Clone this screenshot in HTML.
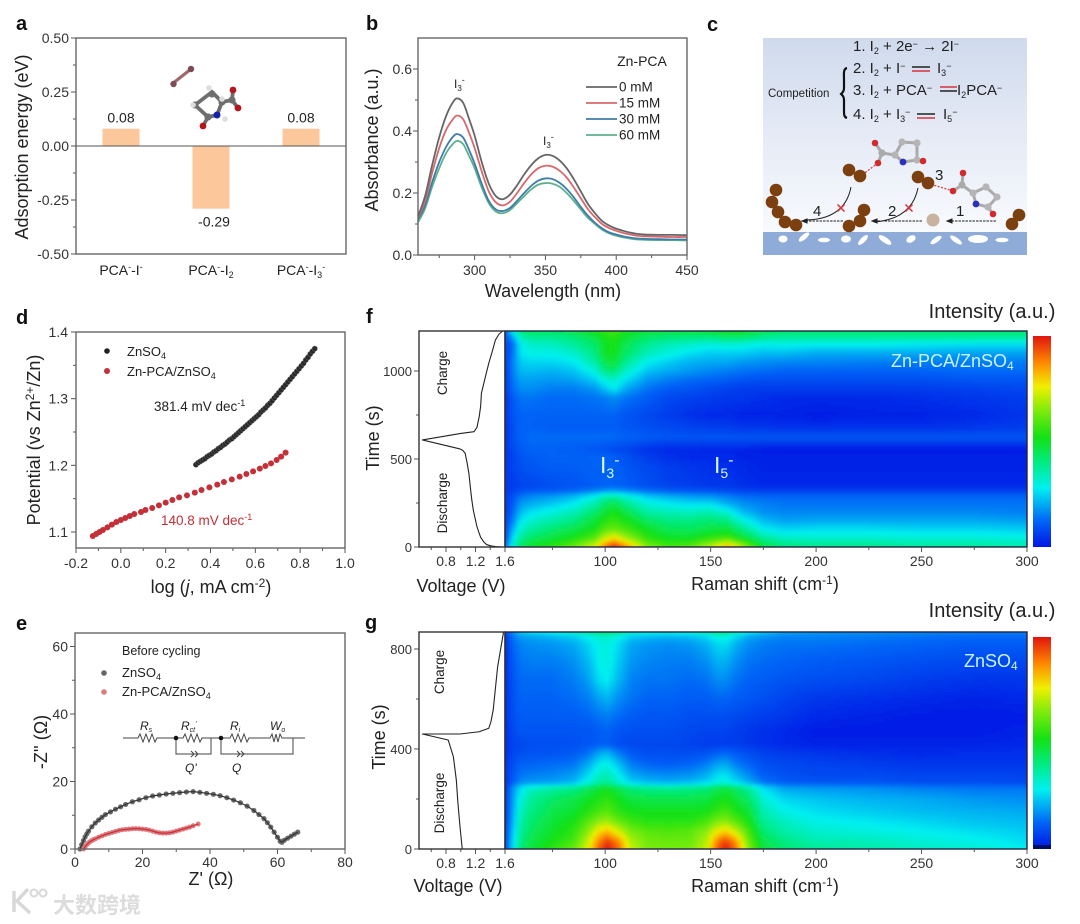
<!DOCTYPE html>
<html lang="en">
<head>
<meta charset="utf-8">
<title>Zn-PCA iodine chemistry figure</title>
<style>
html,body{margin:0;padding:0;background:#fff;}
svg{display:block;font-family:"Liberation Sans","Noto Sans CJK SC",sans-serif;}
text{fill:#222;}
.big{font-size:18px;}
.tick{font-size:14px;fill:#333;}
.letter{font-size:20px;font-weight:bold;fill:#111;}
</style>
</head>
<body>
<svg id="fig" width="1080" height="924" viewBox="0 0 1080 924" xmlns="http://www.w3.org/2000/svg">
  <defs>
    <linearGradient id="cbg" x1="0" y1="0" x2="0" y2="1">
      <stop offset="0" stop-color="#cfdaec"/>
      <stop offset="0.45" stop-color="#e3e9f5"/>
      <stop offset="1" stop-color="#f8fafd"/>
    </linearGradient>
    <filter id="soft" x="-2%" y="-2%" width="104%" height="104%"><feGaussianBlur stdDeviation="1.6"/></filter>
    <clipPath id="clipF"><rect x="505" y="331" width="522" height="216"/></clipPath>
    <clipPath id="clipG"><rect x="505" y="632" width="522" height="217"/></clipPath>
  </defs>

  <text class="letter" x="16" y="30">a</text>
  <text class="letter" x="366" y="30">b</text>
  <text class="letter" x="707" y="31">c</text>
  <text class="letter" x="16" y="324">d</text>
  <text class="letter" x="16" y="630">e</text>
  <text class="letter" x="366" y="323">f</text>
  <text class="letter" x="365" y="629">g</text>

  <g id="panelA"></g>
  <g id="moleculeA">
    <line x1="172" y1="84" x2="191" y2="69" stroke="#9c6a6a" stroke-width="3.200"/>
    <circle cx="173.500" cy="84" r="3.200" fill="#7d4d55"/><circle cx="191" cy="69" r="3.200" fill="#7d4d55"/>
    <path d="M195 105L208 117L217 115L222 102L212 92Z M208 117L203 126 M222 102L232 100L233 90 M232 100L238 108" fill="none" stroke="#6e6e6e" stroke-width="3.800"/>
    <circle cx="195" cy="105" r="3.600" fill="#6e6e6e"/><circle cx="208" cy="117" r="3.600" fill="#6e6e6e"/><circle cx="222" cy="102" r="3.600" fill="#6e6e6e"/><circle cx="212" cy="94" r="3.600" fill="#6e6e6e"/><circle cx="232" cy="100" r="3.600" fill="#6e6e6e"/>
    <circle cx="217" cy="115" r="3.500" fill="#1520b0"/>
    <circle cx="203" cy="126" r="3.400" fill="#b5161c"/><circle cx="233" cy="90" r="3.400" fill="#b5161c"/><circle cx="238" cy="108" r="3.400" fill="#b5161c"/>
    <circle cx="209" cy="88" r="2.800" fill="#ddd"/><circle cx="222" cy="99" r="2.800" fill="#ddd"/><circle cx="225" cy="119" r="2.800" fill="#ddd"/><circle cx="193" cy="105" r="2.800" fill="#ddd"/>
  </g>

  <g id="panelB"></g>

  <g id="panelC">
    <rect x="763" y="38" width="264" height="194" fill="url(#cbg)"/>
    <rect x="763" y="232" width="264" height="23" fill="#8fabd8"/>
    <g fill="#fff">
      <ellipse cx="783" cy="239" rx="4.500" ry="3.500"/>
      <ellipse cx="804" cy="237" rx="6.500" ry="2.500" transform="rotate(-40 804 237)"/>
      <ellipse cx="824" cy="240" rx="6" ry="2.300"/>
      <ellipse cx="846" cy="239" rx="5" ry="3.500"/>
      <ellipse cx="863" cy="240" rx="6.500" ry="2.500" transform="rotate(-45 863 240)"/>
      <ellipse cx="885" cy="240" rx="7.500" ry="2.800" transform="rotate(35 885 240)"/>
      <ellipse cx="911" cy="239" rx="5" ry="3.300" transform="rotate(-30 911 239)"/>
      <ellipse cx="936" cy="240" rx="6.500" ry="2.500" transform="rotate(-35 936 240)"/>
      <ellipse cx="956" cy="240" rx="7" ry="2.500" transform="rotate(35 956 240)"/>
      <ellipse cx="978" cy="239" rx="10" ry="4"/>
      <ellipse cx="1002" cy="240" rx="6.500" ry="2.300"/>
    </g>
    <g font-size="15">
      <text x="853" y="51">1. I<tspan dy="3" font-size="9">2</tspan><tspan dy="-3"> + 2e</tspan><tspan dy="-4" font-size="9">−</tspan><tspan dy="4"> → 2I</tspan><tspan dy="-4" font-size="9">−</tspan></text>
      <text x="853" y="73">2. I<tspan dy="3" font-size="9">2</tspan><tspan dy="-3"> + I</tspan><tspan dy="-4" font-size="9">−</tspan><tspan dy="4" x="937">I</tspan><tspan dy="3" font-size="9">3</tspan><tspan dy="-7" font-size="9">−</tspan></text>
      <text x="853" y="95">3. I<tspan dy="3" font-size="9">2</tspan><tspan dy="-3"> + PCA</tspan><tspan dy="-4" font-size="9">−</tspan><tspan dy="4" x="957">I</tspan><tspan dy="3" font-size="9">2</tspan><tspan dy="-3">PCA</tspan><tspan dy="-4" font-size="9">−</tspan></text>
      <text x="853" y="119">4. I<tspan dy="3" font-size="9">2</tspan><tspan dy="-3"> + I</tspan><tspan dy="3" font-size="9">3</tspan><tspan dy="-7" font-size="9">−</tspan><tspan dy="4" x="943">I</tspan><tspan dy="3" font-size="9">5</tspan><tspan dy="-7" font-size="9">−</tspan></text>
    </g>
    <g stroke-width="1.500">
      <line x1="912" y1="67" x2="930" y2="67" stroke="#222"/><line x1="912" y1="71" x2="930" y2="71" stroke="#d8323c"/>
      <line x1="940" y1="87" x2="957" y2="87" stroke="#d8323c"/><line x1="940" y1="91" x2="957" y2="91" stroke="#222"/>
      <line x1="917" y1="114" x2="935" y2="114" stroke="#222"/><line x1="917" y1="118" x2="935" y2="118" stroke="#d8323c"/>
    </g>
    <text x="768" y="97" font-size="11.500">Competition</text>
    <path d="M847 68C843 69 844 74 844 80L844 88C844 92 842 93 841 94C842 95 844 96 844 100L844 110C844 115 844 117 847 118" fill="none" stroke="#111" stroke-width="2.200"/>
    <g>
      <path d="M875 143L882 153L878 163M882 153L895 155L902 142L917 143L917 160L903 162L895 155M917 160L923 161" fill="none" stroke="#aaa" stroke-width="3"/>
      <line x1="878" y1="163" x2="862" y2="175" stroke="#d8323c" stroke-dasharray="2 1.500" stroke-width="1.200"/>
      <circle cx="875" cy="143" r="3.300" fill="#d02c30"/><circle cx="882" cy="153" r="3.600" fill="#aaa"/><circle cx="878" cy="163" r="3.300" fill="#d02c30"/><circle cx="895" cy="155" r="3.600" fill="#b5b5b5"/><circle cx="902" cy="142" r="3.600" fill="#b5b5b5"/><circle cx="917" cy="143" r="3.600" fill="#b5b5b5"/><circle cx="917" cy="160" r="3.600" fill="#b5b5b5"/><circle cx="903" cy="162" r="3.400" fill="#2a30c0"/><circle cx="923" cy="161" r="3.300" fill="#d02c30"/>
    </g>
    <g>
      <path d="M963 173L962 185L953 191M962 185L973 193L986 187L997 197L988 207L976 204L973 193M988 207L993 214" fill="none" stroke="#aaa" stroke-width="3"/>
      <line x1="953" y1="191" x2="930" y2="184" stroke="#d8323c" stroke-dasharray="2 1.500" stroke-width="1.200"/>
      <circle cx="963" cy="173" r="3.300" fill="#d02c30"/><circle cx="962" cy="185" r="3.600" fill="#aaa"/><circle cx="953" cy="191" r="3.300" fill="#d02c30"/><circle cx="973" cy="193" r="3.600" fill="#b5b5b5"/><circle cx="986" cy="187" r="3.600" fill="#b5b5b5"/><circle cx="997" cy="197" r="3.600" fill="#b5b5b5"/><circle cx="988" cy="207" r="3.600" fill="#b5b5b5"/><circle cx="976" cy="204" r="3.400" fill="#2a30c0"/><circle cx="993" cy="214" r="3.300" fill="#d02c30"/>
    </g>
    <g fill="#7c3f0f">
      <circle cx="776" cy="190" r="6.300"/><circle cx="772" cy="202" r="6.300"/><circle cx="778" cy="212" r="6.300"/><circle cx="785" cy="222" r="6.300"/><circle cx="796" cy="225" r="6.300"/>
      <circle cx="849" cy="226" r="6.300"/><circle cx="860" cy="221" r="6.300"/><circle cx="864" cy="210" r="6.300"/>
      <circle cx="849" cy="170" r="6.300"/><circle cx="860" cy="176" r="6.300"/>
      <circle cx="918" cy="177" r="6.300"/><circle cx="928" cy="183" r="6.300"/>
      <circle cx="1012" cy="224" r="6.300"/><circle cx="1019" cy="215" r="6.300"/>
    </g>
    <circle cx="933" cy="220" r="6.500" fill="#c9b3a0"/>
    <g fill="none" stroke="#222" stroke-width="1">
      <line x1="996" y1="221" x2="948" y2="221" stroke-dasharray="2.500 1"/><path d="M947 221l5 -2v4z" fill="#222"/>
      <line x1="922" y1="221" x2="873" y2="221" stroke-dasharray="2.500 1"/><path d="M872 221l5 -2v4z" fill="#222"/>
      <line x1="843" y1="221" x2="803" y2="221" stroke-dasharray="2.500 1"/><path d="M802 221l5 -2v4z" fill="#222"/>
      <path d="M918 188C914 208 900 220 874 222"/>
      <path d="M851 187C847 208 832 220 804 220"/>
    </g>
    <g stroke="#d8323c" stroke-width="1.500">
      <path d="M905.500 204.500l7 7M912.500 204.500l-7 7"/>
      <path d="M837.500 204.500l7 7M844.500 204.500l-7 7"/>
    </g>
    <g font-size="15">
      <text x="956" y="216">1</text>
      <text x="888" y="216">2</text>
      <text x="935" y="180">3</text>
      <text x="813" y="216">4</text>
    </g>
  </g>

  <g id="panelD"></g>
  <g id="panelE"></g>
  <g id="circuit" fill="none" stroke="#444" stroke-width="1">
    <path d="M123 738H138l2 -4l3 8l3 -8l3 8l3 -8l3 8l2 -4H183l2 -4l3 8l3 -8l3 8l3 -8l3 8l2 -4h9V754H176V738"/>
    <path d="M211 738h10H230l2 -4l3 8l3 -8l3 8l3 -8l3 8l2 -4H270l2 -4l2 8l2 -8l2 8l2 -8l2 4H305M293 738V754H221V738"/>
    <path d="M191 751l3 3l-3 3M195 751l3 3l-3 3M237 751l3 3l-3 3M241 751l3 3l-3 3"/>
    <circle cx="176" cy="738" r="2.300" fill="#111" stroke="none"/>
    <circle cx="221" cy="738" r="2.300" fill="#111" stroke="none"/>
    <g font-size="12" font-style="italic" stroke="none">
      <text x="140" y="730" fill="#333">R<tspan dy="2" font-size="7">s</tspan></text>
      <text x="181" y="730" fill="#333">R<tspan dy="2" font-size="7">ct</tspan><tspan dy="-6" font-size="7">'</tspan></text>
      <text x="230" y="730" fill="#333">R<tspan dy="2" font-size="7">i</tspan></text>
      <text x="270" y="730" fill="#333">W<tspan dy="2" font-size="7">o</tspan></text>
      <text x="185" y="772" fill="#333">Q'</text>
      <text x="232" y="772" fill="#333">Q</text>
    </g>
  </g>
  <g id="panelF"></g>
  <g id="panelG"></g>

  <g>
    <path d="M14 891V912M28 889L17 901L30 913" fill="none" stroke="#d8d8d8" stroke-width="3.500"/>
    <circle cx="34" cy="893" r="3.500" fill="none" stroke="#d8d8d8" stroke-width="2"/>
    <circle cx="43" cy="893" r="3.500" fill="none" stroke="#d8d8d8" stroke-width="2"/>
    <text x="53" y="913" font-size="22" font-weight="bold" style="font-family:'Noto Sans CJK SC',sans-serif;fill:#dcdcdc;">大数跨境</text>
  </g>
</svg>

<script>
/* ---------- panel a data ---------- */
const aCategories = ['PCA<tspan dy="-5" font-size="9">-</tspan><tspan dy="5">-I</tspan><tspan dy="-5" font-size="9">-</tspan>',
  'PCA<tspan dy="-5" font-size="9">-</tspan><tspan dy="5">-I</tspan><tspan dy="3" font-size="9">2</tspan>',
  'PCA<tspan dy="-5" font-size="9">-</tspan><tspan dy="5">-I</tspan><tspan dy="3" font-size="9">3</tspan><tspan dy="-8" font-size="9">-</tspan>'];
const aValues = [0.08, -0.29, 0.08];
const aValueLabels = ['0.08', '-0.29', '0.08'];
const aYTicks = [-0.5, -0.25, 0, 0.25, 0.5];
const aYTickLabels = ['-0.50', '-0.25', '0.00', '0.25', '0.50'];
const aYMinor = [-0.375, -0.125, 0.125, 0.375];

/* ---------- panel b data ---------- */
const bWavelength = [260,265,270,275,280,285,288,292,296,300,305,310,315,320,325,330,335,340,345,350,355,360,365,370,375,380,385,390,395,400,405,410,415,420,430,440,450];
const b0mM = [.125,.19,.29,.38,.45,.495,.505,.49,.44,.385,.30,.23,.19,.18,.195,.225,.26,.29,.312,.323,.32,.305,.28,.245,.205,.165,.135,.11,.095,.085,.078,.072,.068,.066,.065,.065,.064];
const b15mM = [.12,.175,.265,.345,.405,.44,.45,.437,.395,.345,.27,.205,.17,.16,.172,.2,.232,.26,.28,.288,.285,.272,.25,.218,.183,.148,.122,.1,.087,.078,.071,.066,.062,.06,.059,.058,.058];
const b30mM = [.115,.16,.235,.30,.35,.383,.39,.378,.34,.295,.23,.175,.147,.142,.152,.175,.2,.223,.24,.247,.245,.233,.213,.186,.155,.127,.104,.086,.073,.066,.06,.056,.053,.052,.051,.05,.05];
const b60mM = [.105,.15,.22,.28,.33,.36,.368,.357,.32,.28,.218,.167,.14,.135,.145,.167,.19,.212,.227,.232,.23,.22,.2,.175,.147,.12,.1,.082,.07,.062,.057,.053,.05,.049,.048,.048,.047];
const bLegendLabels = ['0 mM', '15 mM', '30 mM', '60 mM'];
const bXTicks = [300, 350, 400, 450];
const bXMinor = [275, 325, 375, 425];
const bYTicks = [0, 0.2, 0.4, 0.6];
const bYMinor = [0.1, 0.3, 0.5];

/* ---------- panel d data ---------- */
const dZnX = [.335,.345,.355,.365,.375,.385,.395,.405,.415,.425,.435,.445,.455,.465,.475,.485,.495,.505,.515,.525,.535,.545,.555,.565,.575,.585,.595,.605,.615,.625,.635,.645,.655,.665,.675,.685,.695,.705,.715,.725,.735,.745,.755,.765,.775,.785,.795,.805,.815,.825,.835,.845,.855,.865];
const dZnY = [1.201,1.204,1.206,1.208,1.21,1.213,1.215,1.217,1.22,1.222,1.225,1.227,1.23,1.232,1.235,1.238,1.24,1.243,1.246,1.249,1.252,1.255,1.258,1.261,1.264,1.267,1.27,1.273,1.276,1.28,1.283,1.286,1.29,1.293,1.297,1.301,1.305,1.309,1.313,1.317,1.321,1.325,1.329,1.333,1.337,1.341,1.345,1.349,1.353,1.358,1.362,1.367,1.371,1.375];
const dPcaX = [-.125,-.11,-.095,-.08,-.06,-.04,-.02,0,.02,.04,.06,.09,.11,.14,.17,.2,.23,.26,.295,.33,.36,.395,.43,.46,.495,.53,.56,.59,.62,.645,.67,.695,.715,.735];
const dPcaY = [1.094,1.097,1.1,1.103,1.107,1.111,1.115,1.118,1.121,1.124,1.127,1.13,1.133,1.136,1.14,1.144,1.148,1.152,1.155,1.159,1.163,1.167,1.171,1.175,1.179,1.183,1.187,1.191,1.195,1.199,1.203,1.208,1.213,1.219];
const dXTicks = [-0.2, 0, 0.2, 0.4, 0.6, 0.8, 1.0];
const dYTicks = [1.1, 1.2, 1.3, 1.4];
const dXMinor = [-0.1, 0.1, 0.3, 0.5, 0.7, 0.9];
const dYMinor = [1.15, 1.25, 1.35];

/* ---------- panel e data ---------- */
const eZnX = [1.5,2,2.5,3,3.5,4,5,6,7,8,9,10.5,12,13.5,15,17,19,21,23,25,27,29,31,33,35,37,39,41,43,45,47,49,51,53,54.5,56,57,58,59,60,60.8,61.3,62,63,64,65,66];
const eZnY = [0,1.3,2.5,3.6,4.5,5.3,6.6,7.7,8.6,9.4,10.2,11,11.8,12.5,13.2,14,14.6,15.2,15.7,16,16.3,16.5,16.7,16.9,17,16.8,16.5,16.2,15.8,15.2,14.5,13.7,12.7,11.4,10.2,9,7.8,6.5,5,3.5,2.3,2,2.6,3.2,3.8,4.4,5];
const ePcaX = [2.5,3,3.5,4,4.5,5,5.5,6,7,8,9,10,11,12,13,14,15,16,17,18,19,20,21,22,23,24,25,26,27,28,29,30,31,32,33,34,35,36.5];
const ePcaY = [0,.7,1.3,1.8,2.2,2.5,2.8,3,3.5,3.9,4.3,4.6,4.9,5.2,5.5,5.7,5.8,5.9,6,6.05,6,5.9,5.8,5.6,5.3,5,4.8,4.7,4.7,4.8,5,5.3,5.6,5.9,6.2,6.5,6.9,7.4];
const eXTicks = [0, 20, 40, 60, 80];
const eYTicks = [0, 20, 40, 60];
const eXMinor = [10, 30, 50, 70];
const eYMinor = [10, 30, 50];

/* ---------- panel f data ---------- */
const fVoltage = [1.57,1.48,1.41,1.35,1.31,1.27,1.25,1.22,1.2,1.17,1.15,1.13,1.11,1.085,1.06,1.03,0.99,0.48,1.0,1.18,1.22,1.25,1.27,1.28,1.33,1.38,1.43,1.47,1.52,1.57];
const fVoltTime = [0,2,6,14,30,55,78,115,153,210,267,340,419,480,532,548,557,608,645,655,680,740,800,873,960,1044,1115,1176,1210,1227];
const fRaman = [53,56,60,65,75,85,95,100,104,110,120,130,140,150,158,165,175,185,200,225,250,275,300];
const fTime = [0,50,100,150,200,250,290,320,350,450,520,550,625,680,750,850,900,950,1000,1050,1100,1150,1190,1227];
const fIntensity = [
 [15,30,45,50,55,62,75,90,100,88,65,58,60,72,85,70,48,42,40,40,38,38,36],
 [10,25,38,43,48,52,60,72,78,68,55,50,50,55,58,50,38,33,32,32,31,31,30],
 [8,20,32,37,42,46,52,60,62,58,50,45,44,47,48,40,28,25,26,26,25,25,24],
 [7,15,27,32,36,40,48,54,56,52,44,40,40,42,40,30,22,19,20,20,20,20,19],
 [6,12,22,26,30,34,42,48,52,46,36,34,33,35,30,22,17,16,16,16,16,16,15],
 [6,10,18,20,23,27,35,42,45,38,30,27,25,25,20,17,15,14,14,14,14,14,14],
 [6,9,14,16,18,21,28,34,36,30,23,20,18,17,15,13,12,12,12,12,12,12,12],
 [5,7,9,10,11,12,15,17,18,16,13,11,10,9,8,7,6,6,6,6,6,6,6],
 [5,6,7,8,9,10,11,12,12,11,9,7,6,5,5,4,3,3,3,3,3,3,3],
 [5,7,9,10,11,11,12,12,12,10,8,6,5,4,4,3,2,2,2,2,2,2,2],
 [5,7,10,11,12,12,12,12,11,9,6,4,3,3,3,2,2,2,2,2,2,2,2],
 [5,8,11,12,12,11,10,9,8,7,4,3,3,2,2,2,1,1,1,1,1,1,1],
 [5,9,12,13,13,13,13,13,13,12,11,10,10,10,10,10,10,10,10,10,10,10,10],
 [5,9,12,12,11,11,11,11,11,10,9,8,7,6,6,5,5,4,4,4,4,5,6],
 [5,10,12,12,12,12,12,12,12,10,8,6,4,3,3,2,2,2,1,2,2,3,5],
 [5,11,14,14,13,13,14,15,17,14,11,8,7,6,5,5,4,3,3,3,4,5,6],
 [6,13,17,17,15,15,18,23,28,20,14,11,10,8,7,6,6,6,6,6,6,7,8],
 [6,14,19,19,18,19,24,30,32,26,18,15,13,12,11,10,9,9,9,9,9,10,10],
 [6,15,22,22,21,23,30,40,42,32,23,20,18,16,15,14,13,12,12,12,12,13,13],
 [7,15,24,25,25,27,36,46,48,38,28,24,21,20,20,18,17,16,16,15,15,15,15],
 [7,13,27,29,29,32,40,50,51,43,34,30,26,24,24,24,22,22,20,20,20,19,19],
 [8,12,28,32,33,37,43,50,52,45,38,34,32,30,31,30,28,29,28,28,27,26,26],
 [10,18,34,38,38,41,46,52,54,48,43,41,40,40,42,42,38,37,37,37,37,37,37],
 [12,28,42,44,44,46,52,56,58,52,48,47,47,49,52,52,46,43,43,43,43,43,43]
];
const fYTicks = [0, 500, 1000];
const fYMinor = [250, 750];

/* ---------- panel g data ---------- */
const gVoltage = [1.02,0.99,0.96,0.94,0.9,0.83,0.48,0.99,1.25,1.38,1.41,1.44,1.5,1.58];
const gVoltTime = [0,89,190,276,369,436,460,460,469,483,510,556,729,867];
const gRaman = [53,56,60,65,75,85,92,97,101,106,112,120,130,140,148,153,157,162,168,175,185,200,225,250,275,300];
const gTime = [0,30,70,110,150,200,245,265,300,340,380,420,470,530,600,680,750,820,855,868];
const gIntensity = [
 [10,25,42,48,55,62,75,92,100,92,72,64,63,64,72,92,100,90,65,48,42,38,36,33,31,28],
 [9,24,40,46,52,58,72,88,96,88,70,63,62,62,70,88,96,86,62,46,40,35,34,31,29,26],
 [8,22,38,44,50,55,66,78,82,74,64,60,59,60,66,76,80,72,58,42,36,32,30,28,26,24],
 [7,20,36,42,48,52,60,66,68,62,57,54,54,54,58,64,66,60,52,38,33,29,27,25,23,22],
 [6,19,34,40,46,49,54,58,60,55,52,51,51,51,52,56,58,53,48,35,29,26,24,22,21,20],
 [6,18,30,38,43,46,50,53,55,51,47,46,46,46,47,50,52,48,43,31,25,23,21,20,18,17],
 [5,17,26,32,36,39,44,48,50,46,41,39,38,39,41,45,47,43,37,26,19,18,17,15,14,14],
 [5,11,17,18,19,22,30,36,38,32,25,22,21,22,25,29,30,26,21,14,11,10,10,9,9,8],
 [5,10,14,15,16,18,25,32,34,28,20,17,16,17,20,25,26,21,16,11,9,8,8,7,7,7],
 [5,9,12,12,13,14,20,27,29,23,15,12,11,12,15,19,20,15,12,9,8,7,6,5,5,5],
 [4,8,9,10,10,11,14,20,22,16,11,9,9,9,10,12,13,11,9,7,6,5,4,3,4,4],
 [4,7,8,9,9,9,10,11,11,9,8,8,8,7,6,6,6,6,5,4,3,2,2,2,2,3],
 [4,8,10,10,10,10,10,11,12,10,9,9,9,8,7,7,7,6,5,4,3,1,1,1,1,2],
 [4,9,11,11,11,11,12,14,15,13,11,10,10,9,9,9,9,8,7,6,5,3,2,1,1,1],
 [4,9,12,12,12,13,15,19,21,17,14,12,12,11,11,12,12,11,10,9,7,5,4,3,2,3],
 [4,10,13,13,13,15,19,26,28,22,16,14,14,13,14,17,17,14,12,11,10,9,8,6,5,5],
 [4,11,14,15,15,17,22,28,30,24,18,16,15,15,17,21,21,17,14,13,12,11,10,9,8,8],
 [5,12,16,17,18,20,25,29,30,26,20,18,17,18,21,25,26,21,17,15,14,14,13,12,11,11],
 [6,14,19,20,22,25,29,32,33,30,25,23,22,23,26,31,31,26,20,18,16,16,15,14,13,13],
 [9,18,26,28,32,36,42,46,47,44,36,32,31,34,38,44,44,38,30,25,21,19,18,17,16,16]
];
const gYTicks = [0, 400, 800];
const gYMinor = [200, 600];

/* ---------- shared raman / voltage axis ticks ---------- */
const ramanTicks = [100, 150, 200, 250, 300];
const ramanMinor = [75, 125, 175, 225, 275];
const voltTicks = [0.8, 1.2, 1.6];
const voltMinor = [0.6, 1.0, 1.4];

/* ---------- colour map ---------- */
const cmapStops = [0, 12, 28, 40, 52, 65, 76, 87, 100];
const cmapColors = [[0,22,228],[0,98,246],[0,240,240],[0,235,130],[20,225,20],[130,235,10],[240,240,0],[255,140,0],[225,20,15]];

/* ---------- helpers ---------- */
const NS = 'http://www.w3.org/2000/svg';
function make(tag, attrs, parent) {
  const el = document.createElementNS(NS, tag);
  for (const k in attrs) el.setAttribute(k, attrs[k]);
  if (parent) parent.appendChild(el);
  return el;
}
function scale(d0, d1, r0, r1) {
  const f = v => r0 + (v - d0) / (d1 - d0) * (r1 - r0);
  f.invert = p => d0 + (p - r0) / (r1 - r0) * (d1 - d0);
  return f;
}
function color(v) {
  let i = 0;
  while (i < cmapStops.length - 2 && v > cmapStops[i + 1]) i++;
  const t = Math.max(0, Math.min(1, (v - cmapStops[i]) / (cmapStops[i + 1] - cmapStops[i])));
  const a = cmapColors[i], b = cmapColors[i + 1];
  return 'rgb(' + [0, 1, 2].map(k => Math.round(a[k] + (b[k] - a[k]) * t)).join(',') + ')';
}
function yAxis(parent, sy, x, ticks, labels, minor, labelX, size) {
  ticks.forEach((t, i) => {
    const tick = make('line', {x1: x - 5, x2: x, y1: sy(t), y2: sy(t), stroke: '#555', 'stroke-width': 1}, parent);
    
    
    const label = make('text', {x: labelX, y: sy(t) + 5, 'text-anchor': 'end', class: 'tick'}, parent);
    
    
    if (size) label.style.fontSize = size + 'px';
    label.textContent = labels[i];
  });
  minor.forEach(t => {
    const tick = make('line', {x1: x - 3, x2: x, y1: sy(t), y2: sy(t), stroke: '#555', 'stroke-width': 1}, parent);
    
    
  });
}
function xAxis(parent, sx, y, ticks, labels, minor, baseline) {
  ticks.forEach((t, i) => {
    const tick = make('line', {x1: sx(t), x2: sx(t), y1: y, y2: y + 5, stroke: '#555', 'stroke-width': 1}, parent);
    
    
    const label = make('text', {x: sx(t), y: baseline, 'text-anchor': 'middle', class: 'tick'}, parent);
    
    
    label.textContent = labels[i];
  });
  minor.forEach(t => {
    const tick = make('line', {x1: sx(t), x2: sx(t), y1: y, y2: y + 3, stroke: '#555', 'stroke-width': 1}, parent);
    
    
  });
}
function frame(parent, x, y, w, h, col) {
  const box = make('rect', {x: x, y: y, width: w, height: h, fill: 'none', stroke: col || '#666', 'stroke-width': 1.4}, parent);
  
  
}
function rotated(parent, x, y, html, anchorName) {
  const t = make('text', {x: x, y: y, 'text-anchor': 'middle', class: 'big', transform: 'rotate(-90 ' + x + ' ' + y + ')'}, parent);
  
  
  t.innerHTML = html;
  return t;
}
function horizontal(parent, x, y, html, anchorName, anchor) {
  const t = make('text', {x: x, y: y, 'text-anchor': anchor || 'middle', class: 'big'}, parent);
  
  
  t.innerHTML = html;
  return t;
}
function linePath(xs, ys, sx, sy) {
  return xs.map((v, i) => (i ? 'L' : 'M') + sx(v).toFixed(2) + ' ' + sy(ys[i]).toFixed(2)).join('');
}
function smoothPath(xs, ys, sx, sy) {
  const px = xs.map(sx), py = ys.map(sy);
  let d = 'M' + px[0].toFixed(2) + ' ' + py[0].toFixed(2);
  for (let i = 0; i < px.length - 1; i++) {
    const a = Math.max(i - 1, 0), b = Math.min(i + 2, px.length - 1);
    d += 'C' + (px[i] + (px[i + 1] - px[a]) / 6).toFixed(2) + ' ' + (py[i] + (py[i + 1] - py[a]) / 6).toFixed(2) + ' ' +
         (px[i + 1] - (px[b] - px[i]) / 6).toFixed(2) + ' ' + (py[i + 1] - (py[b] - py[i]) / 6).toFixed(2) + ' ' +
         px[i + 1].toFixed(2) + ' ' + py[i + 1].toFixed(2);
  }
  return d;
}
function bracket(arr, v) {
  let i = 0;
  while (i < arr.length - 2 && v > arr[i + 1]) i++;
  return [i, Math.max(0, Math.min(1, (v - arr[i]) / (arr[i + 1] - arr[i])))];
}
function heatmap(parent, clipId, cols, rows, grid, sx, sy, left, right, top, bottom) {
  const clip = make('g', {'clip-path': 'url(#' + clipId + ')'}, parent);
  
  
  const soft = make('g', {filter: 'url(#soft)'}, clip);
  
  
  const stepX = 4, stepY = 3;
  for (let px = left - 8; px < right + 8; px += stepX) {
    const [ci, cf] = bracket(cols, sx.invert(px + stepX / 2));
    for (let py = top - 9; py < bottom + 9; py += stepY) {
      const [ri, rf] = bracket(rows, sy.invert(py + stepY / 2));
      const v = (grid[ri][ci] * (1 - cf) + grid[ri][ci + 1] * cf) * (1 - rf) +
                (grid[ri + 1][ci] * (1 - cf) + grid[ri + 1][ci + 1] * cf) * rf;
      const cell = make('rect', {x: px, y: py, width: stepX, height: stepY, fill: color(v), 'shape-rendering': 'crispEdges'}, soft);
      
      
    }
  }
}
function colorbar(parent, id, x, y, w, h, darkEnd) {
  const grad = make('linearGradient', {id: id, x1: 0, y1: 1, x2: 0, y2: 0}, parent);
  cmapStops.forEach((s, i) => {
    make('stop', {offset: s / 100, 'stop-color': 'rgb(' + cmapColors[i].join(',') + ')'}, grad);
  });
  const bar = make('rect', {x: x, y: y, width: w, height: h, fill: 'url(#' + id + ')'}, parent);
  
  
  if (darkEnd) {
    const end = make('rect', {x: x, y: y + h - 4, width: w, height: 4, fill: '#001060'}, parent);
    
    
  }
}

/* ---------- panel a ---------- */
(function () {
  const g = document.getElementById('panelA');
  const sy = scale(-0.5, 0.5, 254, 38);
  const barCenters = i => 121 + i * 90;
  aValues.forEach((v, i) => {
    const bar = make('rect', {x: barCenters(i) - 18.5, y: Math.min(sy(v), sy(0)), width: 37, height: Math.abs(sy(v) - sy(0)), fill: '#fcc79a'}, g);
    
    
    const label = make('text', {x: barCenters(i) + (v < 0 ? 3 : 0), y: v < 0 ? sy(v) + 18 : sy(v) - 6, 'text-anchor': 'middle', 'font-size': 14}, g);
    
    
    label.textContent = aValueLabels[i];
    const cat = make('text', {x: barCenters(i), y: 275, 'text-anchor': 'middle', 'font-size': 14}, g);
    
    
    cat.innerHTML = aCategories[i];
  });
  const zero = make('line', {x1: 76, x2: 346, y1: sy(0), y2: sy(0), stroke: '#555', 'stroke-width': 1}, g);
  
  
  yAxis(g, sy, 76, aYTicks, aYTickLabels, aYMinor, 69);
  frame(g, 76, 38, 270, 216);
  rotated(g, 28, 147, 'Adsorption energy (eV)', 'y-axis-title');
})();

/* ---------- panel b ---------- */
(function () {
  const g = document.getElementById('panelB');
  const sx = scale(260, 450, 418, 687);
  const sy = scale(0, 0.7, 255, 38);
  const series = [b0mM, b15mM, b30mM, b60mM];
  const cols = ['#666666', '#d9686c', '#3f7da8', '#5db08c'];
  [3, 2, 1, 0].forEach(i => {
    const p = make('path', {d: smoothPath(bWavelength, series[i], sx, sy), fill: 'none', stroke: cols[i], 'stroke-width': 1.8, 'stroke-linejoin': 'round'}, g);
    
    
  });
  bLegendLabels.forEach((lab, i) => {
    const y = 87 + i * 16;
    const key = make('line', {x1: 586, x2: 617, y1: y, y2: y, stroke: cols[i], 'stroke-width': 1.8}, g);
    
    
    const t = make('text', {x: 619, y: y + 4.5, 'font-size': 13.5}, g);
    
    
    t.textContent = lab;
  });
  const head = make('text', {x: 642, y: 66, 'text-anchor': 'middle', 'font-size': 14}, g);
  
  
  head.textContent = 'Zn-PCA';
  const p1 = make('text', {x: 454, y: 88, 'font-size': 12}, g);
  
  
  p1.innerHTML = 'I<tspan dy="3" font-size="8">3</tspan><tspan dy="-8" font-size="9">-</tspan>';
  const p2 = make('text', {x: 543, y: 145, 'font-size': 12}, g);
  
  
  p2.innerHTML = 'I<tspan dy="3" font-size="8">3</tspan><tspan dy="-8" font-size="9">-</tspan>';
  yAxis(g, sy, 418, bYTicks, bYTicks.map(v => v.toFixed(1)), bYMinor, 412);
  xAxis(g, sx, 255, bXTicks, bXTicks.map(String), bXMinor, 275);
  frame(g, 418, 38, 269, 217);
  rotated(g, 378, 140, 'Absorbance (a.u.)', 'y-axis-title');
  horizontal(g, 553, 297, 'Wavelength (nm)', 'x-axis-title');
})();

/* ---------- panel d ---------- */
(function () {
  const g = document.getElementById('panelD');
  const sx = scale(-0.2, 1.0, 76, 345);
  const sy = scale(1.076, 1.4, 548, 332);
  dZnX.forEach((v, i) => {
    const dot = make('circle', {cx: sx(v), cy: sy(dZnY[i]), r: 2.7, fill: '#2a2a2a', stroke: '#777', 'stroke-width': 0.4}, g);
    
    
  });
  dPcaX.forEach((v, i) => {
    const dot = make('circle', {cx: sx(v), cy: sy(dPcaY[i]), r: 3, fill: '#c42f38'}, g);
    
    
  });
  const k1 = make('circle', {cx: 107, cy: 351, r: 2.8, fill: '#222'}, g);
  
  
  const k2 = make('circle', {cx: 107, cy: 371, r: 3, fill: '#c42f38'}, g);
  
  
  const t1 = make('text', {x: 127, y: 356, 'font-size': 13}, g);
  
  
  t1.innerHTML = 'ZnSO<tspan dy="3" font-size="9">4</tspan>';
  const t2 = make('text', {x: 127, y: 376, 'font-size': 13}, g);
  
  
  t2.innerHTML = 'Zn-PCA/ZnSO<tspan dy="3" font-size="9">4</tspan>';
  const s1 = make('text', {x: 154, y: 411, 'font-size': 13.5}, g);
  
  
  s1.innerHTML = '381.4 mV dec<tspan dy="-5" font-size="9">-1</tspan>';
  const s2 = make('text', {x: 161, y: 525, 'font-size': 13.5, style: 'fill:#c42f38'}, g);
  
  
  s2.innerHTML = '140.8 mV dec<tspan dy="-5" font-size="9" style="fill:#c42f38">-1</tspan>';
  yAxis(g, sy, 76, dYTicks, dYTicks.map(v => v.toFixed(1)), dYMinor, 68);
  xAxis(g, sx, 548, dXTicks, dXTicks.map(v => v.toFixed(1)), dXMinor, 568);
  frame(g, 76, 332, 269, 216);
  rotated(g, 40, 440, 'Potential (vs Zn<tspan dy="-6" font-size="12">2+</tspan><tspan dy="6">/Zn)</tspan>', 'y-axis-title');
  horizontal(g, 211, 593, 'log (<tspan font-style="italic">j</tspan>, mA cm<tspan dy="-6" font-size="12">-2</tspan><tspan dy="6">)</tspan>', 'x-axis-title');
})();

/* ---------- panel e ---------- */
(function () {
  const g = document.getElementById('panelE');
  const sx = scale(0, 80, 75, 345);
  const sy = scale(0, 64, 849, 633);
  eZnX.forEach((v, i) => {
    const dot = make('circle', {cx: sx(v), cy: sy(eZnY[i]), r: 2.6, fill: '#6a6a6a'}, g);
    
    
  });
  ePcaX.forEach((v, i) => {
    const dot = make('circle', {cx: sx(v), cy: sy(ePcaY[i]), r: 2.5, fill: '#e0787c'}, g);
    
    
  });
  const f1 = make('path', {d: linePath(eZnX, eZnY, sx, sy), fill: 'none', stroke: '#333', 'stroke-width': 1.2}, g);
  
  
  const f2 = make('path', {d: linePath(ePcaX, ePcaY, sx, sy), fill: 'none', stroke: '#c42f38', 'stroke-width': 1.2}, g);
  
  
  const h = make('text', {x: 122, y: 655, 'font-size': 12.5}, g);
  
  
  h.textContent = 'Before cycling';
  const k1 = make('circle', {cx: 104, cy: 673, r: 2.8, fill: '#666'}, g);
  
  
  const k2 = make('circle', {cx: 104, cy: 692, r: 2.8, fill: '#e0787c'}, g);
  
  
  const t1 = make('text', {x: 122, y: 677, 'font-size': 13}, g);
  
  
  t1.innerHTML = 'ZnSO<tspan dy="3" font-size="9">4</tspan>';
  const t2 = make('text', {x: 122, y: 696, 'font-size': 13}, g);
  
  
  t2.innerHTML = 'Zn-PCA/ZnSO<tspan dy="3" font-size="9">4</tspan>';
  yAxis(g, sy, 75, eYTicks, eYTicks.map(String), eYMinor, 68);
  xAxis(g, sx, 849, eXTicks, eXTicks.map(String), eXMinor, 867);
  frame(g, 75, 633, 270, 216);
  rotated(g, 47, 742, '-Z\'\' (Ω)', 'y-axis-title');
  horizontal(g, 211, 885, 'Z\' (Ω)', 'x-axis-title');
})();

/* ---------- heatmap panels ---------- */
function voltagePanel(g, volt, time, sy, top, bottom, yTicks, yMinor, tickBase) {
  const sv = scale(0.8, 1.6, 446, 505);
  const curve = make('path', {d: linePath(volt, time, sv, sy), fill: 'none', stroke: '#222', 'stroke-width': 1.1, 'stroke-linejoin': 'round'}, g);
  
  
  yAxis(g, sy, 419, yTicks, yTicks.map(String), yMinor, 412, 13);
  xAxis(g, sv, bottom, voltTicks, voltTicks.map(v => v.toFixed(1)), voltMinor, tickBase);
  frame(g, 419, top, 86, bottom - top, '#333');
}
function ramanAxis(g, sx, bottom, tickBase) {
  xAxis(g, sx, bottom, ramanTicks, ramanTicks.map(String), ramanMinor, tickBase);
}

(function () {
  const g = document.getElementById('panelF');
  const sx = scale(52.5, 300, 505, 1027);
  const sy = scale(0, 1227, 547, 331);
  heatmap(g, 'clipF', fRaman, fTime, fIntensity, sx, sy, 505, 1027, 331, 547);
  frame(g, 505, 331, 522, 216, '#224');
  voltagePanel(g, fVoltage, fVoltTime, sy, 331, 547, fYTicks, fYMinor, 566);
  ramanAxis(g, sx, 547, 566);
  colorbar(g, 'cbarF', 1033, 336, 18, 211, false);
  horizontal(g, 461, 592, 'Voltage (V)', 'voltage-axis-title');
  horizontal(g, 765, 590, 'Raman shift (cm<tspan dy="-6" font-size="12">-1</tspan><tspan dy="6">)</tspan>', 'raman-axis-title');
  const it = horizontal(g, 992, 318, 'Intensity (a.u.)', 'colorbar-title');
  it.style.fontSize = '20px';
  rotated(g, 379, 438, 'Time (s)', 'y-axis-title');
  const c = rotated(g, 447, 373, 'Charge', 'charge-label');
  c.style.fontSize = '13.5px';
  const d = rotated(g, 447, 503, 'Discharge', 'discharge-label');
  d.style.fontSize = '13.5px';
  const name = horizontal(g, 891, 367, 'Zn-PCA/ZnSO<tspan dy="3" font-size="12" style="fill:#c8f4ff">4</tspan>', 'series-title', 'start');
  name.style.fill = '#c8f4ff';
  const i3 = horizontal(g, 600, 473, 'I<tspan dy="5" font-size="14" style="fill:#d8f8ff">3</tspan><tspan dy="-13" font-size="16" style="fill:#d8f8ff">-</tspan>', 'i3-peak-label', 'start');
  i3.style.fill = '#d8f8ff';
  i3.style.fontSize = '23px';
  const i5 = horizontal(g, 714, 473, 'I<tspan dy="5" font-size="14" style="fill:#d8f8ff">5</tspan><tspan dy="-13" font-size="16" style="fill:#d8f8ff">-</tspan>', 'i5-peak-label', 'start');
  i5.style.fill = '#d8f8ff';
  i5.style.fontSize = '23px';
})();

(function () {
  const g = document.getElementById('panelG');
  const sx = scale(52.5, 300, 505, 1027);
  const sy = scale(0, 868, 849, 632);
  heatmap(g, 'clipG', gRaman, gTime, gIntensity, sx, sy, 505, 1027, 632, 849);
  frame(g, 505, 632, 522, 217, '#224');
  voltagePanel(g, gVoltage, gVoltTime, sy, 632, 849, gYTicks, gYMinor, 868);
  ramanAxis(g, sx, 849, 868);
  colorbar(g, 'cbarG', 1033, 637, 18, 212, true);
  horizontal(g, 458, 892, 'Voltage (V)', 'voltage-axis-title');
  horizontal(g, 765, 892, 'Raman shift (cm<tspan dy="-6" font-size="12">-1</tspan><tspan dy="6">)</tspan>', 'raman-axis-title');
  const it = horizontal(g, 992, 617, 'Intensity (a.u.)', 'colorbar-title');
  it.style.fontSize = '20px';
  rotated(g, 385, 737, 'Time (s)', 'y-axis-title');
  const c = rotated(g, 444, 672, 'Charge', 'charge-label');
  c.style.fontSize = '13.5px';
  const d = rotated(g, 444, 803, 'Discharge', 'discharge-label');
  d.style.fontSize = '13.5px';
  const name = horizontal(g, 964, 667, 'ZnSO<tspan dy="3" font-size="12" style="fill:#c8f4ff">4</tspan>', 'series-title', 'start');
  name.style.fill = '#c8f4ff';
})();
</script>
</body>
</html>
